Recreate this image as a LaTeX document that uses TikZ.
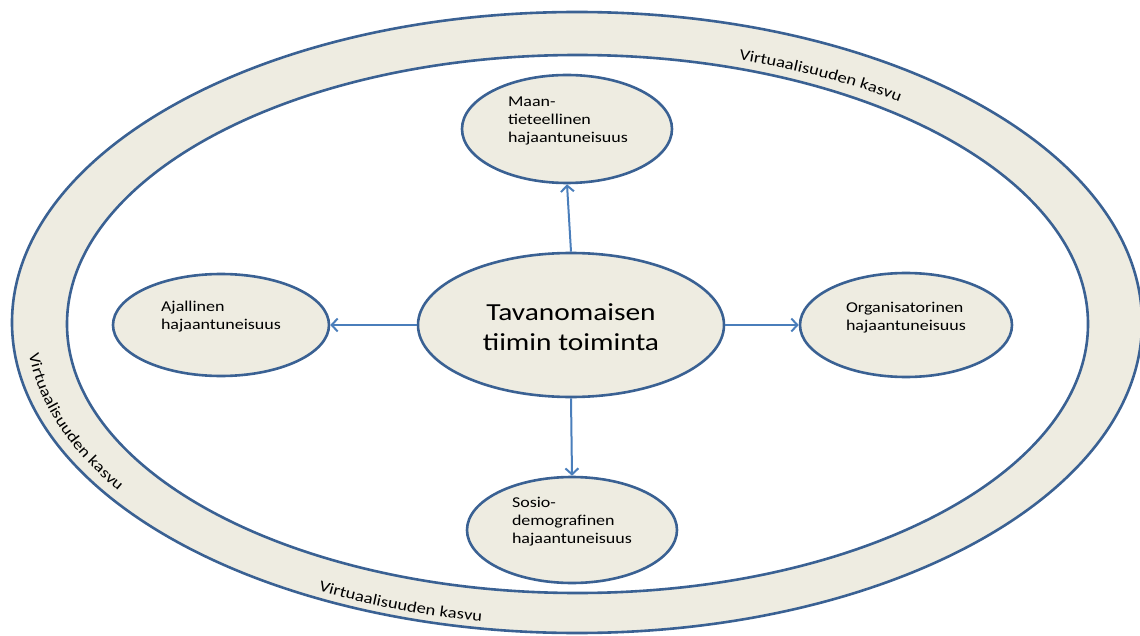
\documentclass[tikz,border=0pt]{standalone}
\usepackage{fontspec}
\setmainfont{Carlito}[FakeStretch=1.2]
\usetikzlibrary{shapes.geometric,arrows.meta,decorations.text}
\definecolor{ringfill}{HTML}{EEECE1}
\definecolor{edgeblue}{HTML}{3A6193}
\definecolor{arrowblue}{HTML}{4A7EBB}
\newcommand{\smallfont}{\fontsize{15}{18}\selectfont}
\newcommand{\bigfont}{\fontsize{24.5}{30}\selectfont}
\newcommand{\ringfont}{\fontsize{15.5}{18}\selectfont}
\tikzset{
  bubble/.style={ellipse, draw=edgeblue, line width=2.6pt, fill=ringfill, inner sep=0pt},
  txt/.style={align=left, font=\smallfont, inner sep=0pt, text=black},
  conn/.style={draw=arrowblue, line width=2pt, -{Straight Barb[length=6pt,width=13pt]}},
  ringline/.style={draw=edgeblue, line width=2.6pt},
  ringtext/.style={decorate, decoration={text along path, text align=left, text={|\ringfont|Virtuaalisuuden kasvu}}}
}
\begin{document}
\begin{tikzpicture}[x=1pt,y=1pt]
\useasboundingbox (0,0) rectangle (1140,-636);
% ring
\fill[ringfill, even odd rule] (577,-322.5) ellipse [x radius=565, y radius=310.5]
      (577.5,-324) ellipse [x radius=510.5, y radius=269];
\draw[ringline] (577,-322.5) ellipse [x radius=565, y radius=310.5];
\draw[ringline] (577.5,-324) ellipse [x radius=510.5, y radius=269];
% ring texts
\path[ringtext] (577,-323) ++(72.5:538 and 276) arc[start angle=72.5, end angle=30, x radius=538, y radius=276];
\path[ringtext] (577,-323) ++(186:551 and 303) arc[start angle=186, end angle=232, x radius=551, y radius=303];
\path[ringtext] (577,-323) ++(242:551 and 303) arc[start angle=242, end angle=285, x radius=551, y radius=303];
% nodes
\node[bubble, minimum width=306, minimum height=144] (core) at (571,-325) {};
\node[align=center, font=\bigfont, inner sep=0pt] (coreT) at (571,-327) {Tavanomaisen\\tiimin toiminta};
\node[bubble, minimum width=210, minimum height=108] (geo) at (567,-129) {};
\node[txt] (geoT) at (568,-121) {Maan-\\tieteellinen\\hajaantuneisuus};
\node[bubble, minimum width=210, minimum height=106] (soc) at (572,-530) {};
\node[txt] (socT) at (572,-522) {Sosio-\\demografinen\\hajaantuneisuus};
\node[bubble, minimum width=216, minimum height=102] (tmp) at (221,-325) {};
\node[txt] (tmpT) at (221,-317) {Ajallinen\\hajaantuneisuus};
\node[bubble, minimum width=212, minimum height=104] (org) at (906,-325) {};
\node[txt] (orgT) at (906,-318) {Organisatorinen\\hajaantuneisuus};
% connectors
\draw[conn] (core.north) -- (geo.south);
\draw[conn] (core.south) -- (soc.north);
\draw[conn] (core.west) -- (tmp.east);
\draw[conn] (core.east) -- (org.west);
\end{tikzpicture}
\end{document}
